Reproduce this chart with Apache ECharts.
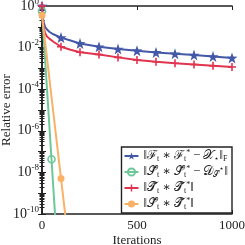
<!DOCTYPE html>
<html><head><meta charset="utf-8">
<script src="https://cdn.jsdelivr.net/npm/echarts@6/dist/echarts.min.js"></script>
<style>html,body{margin:0;padding:0;background:#fff}#c{width:245px;height:245px}</style>
</head><body><div id="c"></div>
<script>
// iterations and log10 of relative error
const itersB = [0, 3, 6, 10, 16, 25, 40, 60, 100, 150, 200, 300, 400, 500, 600, 700, 800, 900, 1000];
const blueLog = [0, -0.4, -0.65, -0.82, -1.0, -1.12, -1.25, -1.36, -1.52, -1.66, -1.8, -1.96, -2.07, -2.15, -2.23, -2.3, -2.36, -2.43, -2.5];
const redLog  = [0, -0.55, -0.85, -1.08, -1.3, -1.45, -1.58, -1.72, -1.96, -2.1, -2.22, -2.33, -2.47, -2.6, -2.68, -2.75, -2.81, -2.87, -2.93];
const itersG = [0, 50, 75];
const greenLog = [-0.25, -7.37, -10.93];
const itersO = [0, 100, 150];
const orangeLog = [-0.45, -8.29, -12.2];
const markEvery = 50;
const xTicks = [0, 500, 1000];
const yLabelExps = [0, -2, -4, -6, -8, -10];

const serif = '"Liberation Serif", "DejaVu Serif", serif';
const STAR = 'path://M0,-10 L2.35,-3.24 L9.51,-3.09 L3.8,1.24 L5.88,8.09 L0,4 L-5.88,8.09 L-3.8,1.24 L-9.51,-3.09 L-2.35,-3.24 Z';
const PLUS = 'path://M-1,-5 L1,-5 L1,-1 L5,-1 L5,1 L1,1 L1,5 L-1,5 L-1,1 L-5,1 L-5,-1 L-1,-1 Z';

function mk(iters, logs, step) {
  return iters.map((x, i) => {
    const v = Math.pow(10, logs[i]);
    const show = x % step === 0 && logs[i] >= -10;
    return show ? { value: [x, v] } : { value: [x, v], symbol: 'none' };
  });
}

const C = { blue: '#4458a8', green: '#6cc899', red: '#e0344f', orange: '#f9b167' };

const legendText = {
  a: '{n|‖ℱ}{s|t}{n| ∗ ℱ}{s|t}{p|*}{n| − 𝒳}{s|⋆}{n|‖}{s|F}',
  b: '{n|‖𝒮̃}{s|t}{n| ∗ 𝒮̃}{s|t}{p|*}{n| − 𝒟}{s|𝒮}{p|⋆}{n|‖}',
  c: '{n|‖𝒯̃}{s|t}{n| ∗ 𝒯̃}{s|t}{p|*}{n|‖}',
  d: '{n|‖𝒮̃}{s|t}{n| ∗ 𝒯̃}{s|t}{p|*}{n|‖}'
};

const chart = echarts.init(document.getElementById('c'), null, { renderer: 'canvas' });
const axisLine = { show: true, lineStyle: { color: '#222', width: 1.6 } };
chart.setOption({
  animation: false,
  grid: { left: 42, right: 13, top: 6, bottom: 31, containLabel: false, outerBoundsMode: 'none' },
  xAxis: [
    { type: 'value', min: 0, max: 1000, interval: 500, position: 'bottom',
      axisLine, axisTick: { show: true, inside: true, length: 4, lineStyle: { color: '#222' } },
      axisLabel: { color: '#222', fontFamily: serif, fontSize: 13, margin: 5,
        formatter: v => xTicks.includes(v) ? String(v) : '' },
      splitLine: { show: false },
      name: 'Iterations', nameLocation: 'middle', nameGap: 20, nameMoveOverlap: false,
      nameTextStyle: { color: '#222', fontFamily: serif, fontSize: 13 } },
    { type: 'value', min: 0, max: 1000, interval: 500, position: 'top',
      axisLine, axisTick: { show: true, inside: true, length: 4, lineStyle: { color: '#222' } },
      axisLabel: { show: false }, splitLine: { show: false } }
  ],
  yAxis: [
    { type: 'log', logBase: 10, min: 1e-10, max: 1, interval: 1, position: 'left',
      axisLine, axisTick: { show: true, inside: true, length: 4, lineStyle: { color: '#222' } },
      minorTick: { show: true, splitNumber: 9, length: 2.5, lineStyle: { color: '#222' } },
      axisLabel: { fontFamily: serif, margin: 3, color: '#222',
        formatter: v => { const e = Math.round(Math.log10(v)); return yLabelExps.includes(e) ? '{b|10}{s|' + e + '}' : ''; },
        rich: { b: { fontFamily: serif, fontSize: 14, color: '#222' }, s: { fontFamily: serif, fontSize: 9, color: '#222', padding: [0, 0, 9, 0] } } },
      splitLine: { show: false },
      name: 'Relative error', nameLocation: 'middle', nameGap: 29, nameMoveOverlap: false,
      nameTextStyle: { color: '#222', fontFamily: serif, fontSize: 13 } },
    { type: 'log', logBase: 10, min: 1e-10, max: 1, interval: 1, position: 'right',
      axisLine, axisTick: { show: true, inside: true, length: 4, lineStyle: { color: '#222' } },
      minorTick: { show: true, splitNumber: 9, length: 2.5, lineStyle: { color: '#222' } },
      axisLabel: { show: false }, splitLine: { show: false } }
  ],
  legend: {
    orient: 'vertical', right: 13, bottom: 32, itemWidth: 14, itemHeight: 9, itemGap: 2,
    padding: [2, 4, 2, 2], borderColor: '#222', borderWidth: 1.4, backgroundColor: '#fff', borderRadius: 0,
    formatter: n => legendText[n],
    textStyle: { fontFamily: serif, color: '#222',
      rich: { n: { fontFamily: serif, fontSize: 12.5, color: '#222' },
              s: { fontFamily: serif, fontSize: 8, color: '#222', padding: [6, 0, 0, 0] },
              p: { fontFamily: serif, fontSize: 8, color: '#222', padding: [0, 0, 6, 0] } } }
  },
  series: [
    { name: 'a', type: 'line', data: mk(itersB, blueLog, 100), symbol: STAR, symbolSize: 11,
      lineStyle: { color: C.blue, width: 2 }, itemStyle: { color: C.blue }, showAllSymbol: true, clip: true, z: 2 },
    { name: 'b', type: 'line', data: mk(itersG, greenLog, markEvery), symbol: 'circle', symbolSize: 7,
      lineStyle: { color: C.green, width: 2 }, itemStyle: { color: 'rgba(0,0,0,0)', borderColor: C.green, borderWidth: 1.6 }, showAllSymbol: true, clip: true, z: 3 },
    { name: 'c', type: 'line', data: mk(itersB, redLog, 100), symbol: PLUS, symbolSize: 8,
      lineStyle: { color: C.red, width: 2 }, itemStyle: { color: C.red }, showAllSymbol: true, clip: true, z: 4 },
    { name: 'd', type: 'line', data: mk(itersO, orangeLog, 100), symbol: 'circle', symbolSize: 7,
      lineStyle: { color: C.orange, width: 2 }, itemStyle: { color: C.orange }, showAllSymbol: true, clip: true, z: 5 }
  ]
});
</script></body></html>
